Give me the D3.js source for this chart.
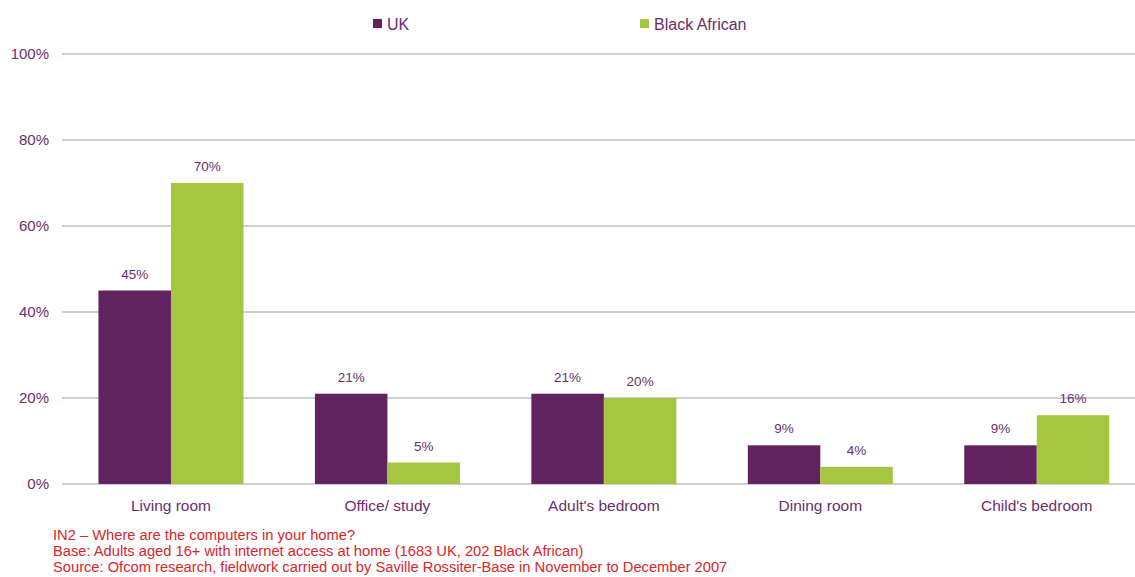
<!DOCTYPE html>
<html><head><meta charset="utf-8">
<script src="https://cdn.jsdelivr.net/npm/d3@7"></script>
<style>body{margin:0;background:#fff}svg{display:block;font-family:"Liberation Sans",Arial,sans-serif}</style>
</head><body>
<svg id="c" width="1135" height="577"></svg>
<script>
const categories = ["Living room","Office/ study","Adult's bedroom","Dining room","Child's bedroom"];
const seriesNames = ["UK","Black African"];
const ukValues = [45,21,21,9,9];
const blackAfricanValues = [70,5,20,4,16];
const yTicks = [0,20,40,60,80,100];
const notes = [
  "IN2 \u2013 Where are the computers in your home?",
  "Base: Adults aged 16+ with internet access at home (1683 UK, 202 Black African)",
  "Source: Ofcom research, fieldwork carried out by Saville Rossiter-Base in November to December 2007"
];
const colors = ["#612360","#a5c640"];
const textColor = "#6a2f6b";

const svg = d3.select("#c");
const x0 = d3.scaleBand().domain(categories).range([62.75,1145]).paddingInner(0.33).paddingOuter(0.165);
const x1 = d3.scaleBand().domain(seriesNames).range([0,x0.bandwidth()]);
const y = d3.scaleLinear().domain([0,100]).range([484,54]);

// gridlines
svg.append("g").selectAll("line").data(yTicks).join("line")
  .attr("x1",62).attr("x2",1135).attr("y1",d=>y(d)).attr("y2",d=>y(d))
  .attr("stroke","#cfcfcf").attr("stroke-width",2);

// y labels
const yAxis = d3.axisLeft(y).tickValues(yTicks).tickFormat(d=>d+"%").tickSize(0).tickPadding(0);
const ga = svg.append("g").attr("transform","translate(49,0)").call(yAxis);
ga.select(".domain").remove();
ga.selectAll("text").attr("fill",textColor).attr("font-size",15).attr("font-family","Liberation Sans, Arial, sans-serif");

const rows = categories.map((c,i)=>({cat:c, vals:[ukValues[i],blackAfricanValues[i]]}));
const groups = svg.append("g").selectAll("g").data(rows).join("g")
  .attr("transform",d=>`translate(${x0(d.cat)},0)`);
groups.selectAll("rect").data(d=>d.vals.map((v,k)=>({s:seriesNames[k],v,k}))).join("rect")
  .attr("x",d=>x1(d.s)).attr("width",x1.bandwidth())
  .attr("y",d=>y(d.v)).attr("height",d=>y(0)-y(d.v)).attr("fill",d=>colors[d.k]);
groups.selectAll("text.v").data(d=>d.vals.map((v,k)=>({s:seriesNames[k],v,k}))).join("text")
  .attr("class","v").attr("x",d=>x1(d.s)+x1.bandwidth()/2).attr("y",d=>y(d.v)-12)
  .attr("text-anchor","middle").attr("font-size",13.5).attr("fill",textColor).text(d=>d.v+"%");

// x labels
svg.append("g").selectAll("text").data(categories).join("text")
  .attr("x",d=>x0(d)+x0.bandwidth()/2).attr("y",511).attr("text-anchor","middle")
  .attr("font-size",15.5).attr("fill",textColor).text(d=>d);

// legend
const legX = [373,640];
const lg = svg.append("g").selectAll("g").data(seriesNames).join("g")
  .attr("transform",(d,i)=>`translate(${legX[i]},0)`);
lg.append("rect").attr("x",0).attr("y",19).attr("width",9).attr("height",9).attr("fill",(d,i)=>colors[i]);
lg.append("text").attr("x",14).attr("y",29.5).attr("font-size",16).attr("fill",textColor).text(d=>d);

// notes
svg.append("g").selectAll("text").data(notes).join("text")
  .attr("x",53).attr("y",(d,i)=>539.5+i*16).attr("font-size",14.7).attr("fill","#d7262b").text(d=>d);
</script>
</body></html>
